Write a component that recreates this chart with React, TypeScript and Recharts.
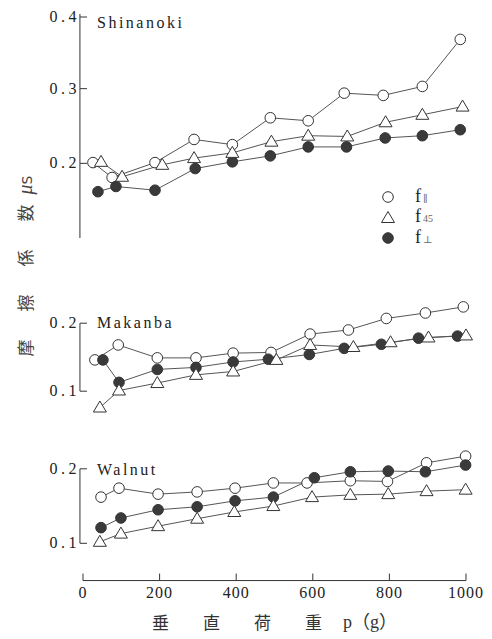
import React from 'react';
import { LineChart, Line, XAxis, YAxis, ReferenceLine, Legend } from 'recharts';

const P_TICKS = [0, 200, 400, 600, 800, 1000];

// Shinanoki
const shinParP = [26, 76, 188, 290, 390, 489, 588, 682, 784, 886, 985];
const shinParMu = [0.201, 0.181, 0.201, 0.232, 0.225, 0.261, 0.257, 0.294, 0.291, 0.303, 0.366];
const shin45P = [47, 102, 207, 290, 390, 492, 588, 690, 790, 886, 991];
const shin45Mu = [0.202, 0.182, 0.198, 0.207, 0.214, 0.229, 0.237, 0.236, 0.255, 0.265, 0.276];
const shinPerpP = [39, 86, 188, 293, 390, 489, 588, 688, 789, 886, 985];
const shinPerpMu = [0.162, 0.169, 0.164, 0.193, 0.202, 0.21, 0.222, 0.222, 0.234, 0.237, 0.245];

// Makanba
const makParP = [31, 92, 194, 295, 392, 491, 593, 693, 792, 894, 993];
const makParMu = [0.146, 0.168, 0.149, 0.149, 0.156, 0.157, 0.184, 0.19, 0.207, 0.215, 0.224];
const mak45P = [44, 94, 194, 295, 392, 505, 593, 706, 803, 902, 1000];
const mak45Mu = [0.076, 0.101, 0.112, 0.124, 0.129, 0.146, 0.168, 0.165, 0.172, 0.179, 0.182];
const makPerpP = [52, 94, 194, 295, 392, 484, 591, 682, 779, 876, 978];
const makPerpMu = [0.146, 0.113, 0.132, 0.135, 0.143, 0.147, 0.154, 0.163, 0.169, 0.178, 0.181];

// Walnut
const walParP = [47, 94, 196, 298, 397, 497, 585, 698, 795, 897, 999];
const walParMu = [0.162, 0.174, 0.166, 0.169, 0.174, 0.181, 0.181, 0.184, 0.183, 0.208, 0.217];
const wal45P = [44, 99, 196, 298, 395, 497, 598, 698, 797, 897, 999];
const wal45Mu = [0.102, 0.113, 0.123, 0.133, 0.142, 0.15, 0.162, 0.165, 0.166, 0.17, 0.172];
const walPerpP = [47, 99, 196, 298, 397, 497, 604, 698, 797, 894, 999];
const walPerpMu = [0.121, 0.134, 0.145, 0.149, 0.157, 0.162, 0.188, 0.196, 0.197, 0.196, 0.205];

const FONT = '"Liberation Serif", "DejaVu Serif", serif';
const INK = '#333';

const zip = (ps: number[], mus: number[]) => ps.map((p, i) => ({ p, mu: mus[i] }));

const SERIES = [
  { key: 'par', sub: '∥', shape: 'circle' },
  { key: 'perp', sub: '⊥', shape: 'filled' },
  { key: 's45', sub: '45', shape: 'triangle' },
];
const LEGEND_ORDER = ['par', 's45', 'perp'];

const PANELS = [
  {
    name: 'Shinanoki', nameDy: 11, ticks: [0.1, 0.2, 0.3, 0.4], vTop: 0.4, vBot: 0.1,
    yTop: 14, yBot: 238, domain: [0.1, 0.4], xAxis: false, legend: true,
    par: zip(shinParP, shinParMu), s45: zip(shin45P, shin45Mu), perp: zip(shinPerpP, shinPerpMu),
  },
  {
    name: 'Makanba', nameDy: 5, ticks: [0.1, 0.2], vTop: 0.2, vBot: 0.1,
    yTop: 323, yBot: 391, domain: [0.06, 0.24], xAxis: false, legend: false,
    par: zip(makParP, makParMu), s45: zip(mak45P, mak45Mu), perp: zip(makPerpP, makPerpMu),
  },
  {
    name: 'Walnut', nameDy: 6, ticks: [0.1, 0.2], vTop: 0.2, vBot: 0.1,
    yTop: 469, yBot: 543.5, domain: [0.05, 0.24], xAxis: true, legend: false,
    par: zip(walParP, walParMu), s45: zip(wal45P, wal45Mu), perp: zip(walPerpP, walPerpMu),
  },
];

const textStyle = { fontFamily: FONT };

function Marker({ cx, cy, shape }: any) {
  if (cx == null || cy == null) return null;
  if (shape === 'triangle') {
    return <path d={`M${cx},${cy - 6.5}L${cx + 6.5},${cy + 4.5}L${cx - 6.5},${cy + 4.5}Z`} fill="#fff" stroke={INK} strokeWidth={1} />;
  }
  return <circle cx={cx} cy={cy} r={5.3} fill={shape === 'filled' ? '#3a3a3a' : '#fff'} stroke={INK} strokeWidth={1} />;
}

function YTick({ x, y, payload, panel }: any) {
  const v = payload.value;
  return (
    <g>
      <line x1={x - 3} x2={x + 4} y1={y} y2={y} stroke={INK} />
      <text x={x - 3} y={y} dy={5} textAnchor="end" style={{ ...textStyle, fontSize: 16, letterSpacing: 3.5 }} fill="#222">
        {v.toFixed(1)}
      </text>
      {v === panel.vTop && (
        <text x={x + 14} y={y} dy={panel.nameDy} style={{ ...textStyle, fontSize: 16, letterSpacing: 2.5 }} fill="#222">
          {panel.name}
        </text>
      )}
    </g>
  );
}

function XTick({ x, y, payload }: any) {
  return (
    <g>
      <line x1={x} x2={x} y1={y} y2={y - 7} stroke={INK} />
      <text x={x} y={y + 17} textAnchor="middle" style={{ ...textStyle, fontSize: 16, letterSpacing: 1 }} fill="#222">
        {payload.value}
      </text>
    </g>
  );
}

function LegendBox() {
  return (
    <div style={{ fontFamily: FONT, color: '#222' }}>
      {LEGEND_ORDER.map((k) => {
        const s = SERIES.find((d) => d.key === k)!;
        return (
          <div key={k} style={{ display: 'flex', alignItems: 'center', height: 20.5 }}>
            <svg width={20} height={20}>
              <Marker cx={10} cy={10} shape={s.shape} />
            </svg>
            <span style={{ marginLeft: 17, fontSize: 18, lineHeight: '20px' }}>
              f<span style={{ fontSize: 10, color: '#666', marginLeft: 2 }}>{s.sub}</span>
            </span>
          </div>
        );
      })}
    </div>
  );
}

function Panel({ panel }: any) {
  const scale = (panel.yBot - panel.yTop) / (panel.vTop - panel.vBot);
  const plotTop = panel.yTop - (panel.domain[1] - panel.vTop) * scale;
  const plotBot = panel.yBot + (panel.vBot - panel.domain[0]) * scale;
  const mTop = 6;
  const mBot = panel.xAxis ? 0 : 8;
  const xH = panel.xAxis ? 30 : 0;
  const height = mTop + (plotBot - plotTop) + mBot + xH;
  return (
    <div style={{ position: 'absolute', left: 0, top: plotTop - mTop }}>
      <LineChart width={492} height={height} margin={{ top: mTop, right: 26, bottom: mBot, left: 33 }}>
        <XAxis
          type="number"
          dataKey="p"
          domain={[0, 1000]}
          ticks={P_TICKS}
          hide={!panel.xAxis}
          height={xH}
          tickSize={0}
          tickMargin={0}
          tickLine={false}
          axisLine={{ stroke: INK }}
          tick={<XTick />}
        />
        <YAxis
          type="number"
          domain={panel.domain}
          ticks={panel.ticks}
          width={50}
          axisLine={false}
          tickLine={false}
          tickSize={0}
          tickMargin={0}
          tick={(p: any) => <YTick {...p} panel={panel} />}
        />
        <ReferenceLine
          segment={[{ x: -8, y: panel.vBot }, { x: -8, y: panel.vTop }]}
          stroke={INK}
          ifOverflow="visible"
        />
        {SERIES.map((s) => (
          <Line
            key={s.key}
            data={panel[s.key]}
            dataKey="mu"
            stroke="#555"
            strokeWidth={1}
            isAnimationActive={false}
            activeDot={false}
            dot={(props: any) => <Marker key={`${s.key}-${props.index}`} cx={props.cx} cy={props.cy} shape={s.shape} />}
          />
        ))}
        {panel.legend && (
          <Legend
            layout="horizontal"
            verticalAlign="middle"
            align="center"
            content={() => <LegendBox />}
            wrapperStyle={{ left: 378, top: 187 - (plotTop - mTop), width: 80 }}
          />
        )}
      </LineChart>
    </div>
  );
}

export default function App() {
  return (
    <div style={{ position: 'absolute', left: 0, top: 0, width: 492, height: 639, background: '#fff' }}>
      {PANELS.map((panel) => (
        <Panel key={panel.name} panel={panel} />
      ))}
      <div
        style={{
          position: 'absolute', left: 25 - 110, top: 265.5 - 12, width: 220, height: 24, lineHeight: '24px',
          transform: 'rotate(-90deg)', textAlign: 'center', whiteSpace: 'nowrap', color: '#444',
          fontFamily: '"Noto Sans CJK JP"', fontSize: 17,
        }}
      >
        <span style={{ letterSpacing: 28 }}>摩擦係</span>
        <span style={{ letterSpacing: 10 }}>数</span>
        <span style={{ fontFamily: FONT, fontStyle: 'italic', fontSize: 20 }}>μ</span>
        <span style={{ fontFamily: '"DejaVu Sans"', fontSize: 14 }}>S</span>
      </div>
      <div
        style={{
          position: 'absolute', left: 152, top: 611, height: 22, lineHeight: '22px', whiteSpace: 'nowrap',
          color: '#333', fontFamily: '"Noto Sans CJK JP"', fontSize: 17,
        }}
      >
        <span style={{ letterSpacing: 34 }}>垂直荷</span>
        <span>重</span>
      </div>
      <div
        style={{
          position: 'absolute', left: 343, top: 611, height: 22, lineHeight: '22px', whiteSpace: 'nowrap',
          color: '#333', fontFamily: `${FONT}, "Noto Sans CJK JP"`, fontSize: 18,
        }}
      >
        p（g）
      </div>
    </div>
  );
}
